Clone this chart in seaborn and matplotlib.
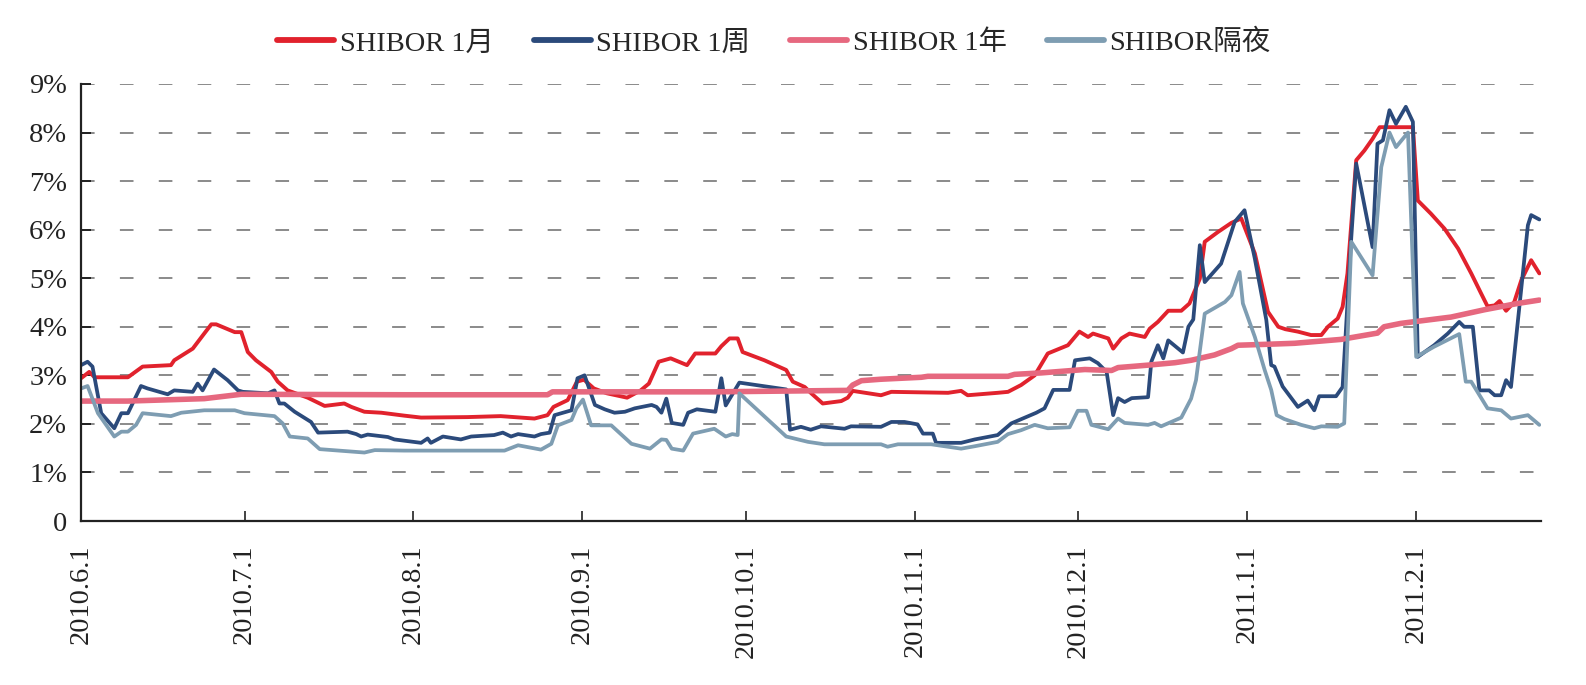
import pandas as pd
import matplotlib
matplotlib.use("Agg")
import matplotlib.pyplot as plt
import seaborn as sns

# ================= 数据（日期偏移：距 2010-06-01 的天数，利率 %） =================
START = "2010-06-01"

m1_days = [0, 1.5, 2.5, 8.6, 11.3, 16.5, 17.1, 20.5, 22.6, 23.9, 24.8, 28.2, 29.4, 30.6, 32.1,
           34.9, 36.1, 37.9, 41.6, 44.7, 48.3, 49.6, 52.0, 55.1, 59.3, 62.4, 70.9, 77.0, 83.2,
           85.6, 86.7, 89.3, 91.0, 92.3, 94.1, 96.5, 100.2, 102.7, 104.2, 106.0, 108.2, 111.2,
           112.7, 116.4, 117.5, 119.0, 120.5, 121.4, 125.4, 129.4, 130.6, 132.8, 134.0, 136.1,
           139.5, 140.7, 141.6, 146.8, 148.7, 159.1, 161.5, 162.7, 168.2, 170.1, 172.5, 175.0,
           177.4, 181.1, 183.2, 184.8, 185.7, 188.5, 189.4, 190.9, 192.4, 195.2, 196.1, 197.6,
           199.5, 201.9, 203.4, 205.3, 206.2, 208.6, 211.1, 212.9, 215.4, 217.8, 219.7, 221.0,
           223.3, 225.7, 227.6, 228.8, 230.6, 231.5, 232.4, 234.0, 235.5, 237.0, 238.3, 244.4,
           245.3, 247.7, 250.2, 252.7, 255.1, 256.9, 258.1, 259.4, 260.3, 261.5, 263.0, 264.3,
           266.1, 267.6]
m1_vals = [2.94, 3.07, 2.96, 2.96, 3.18, 3.21, 3.31, 3.55, 3.86, 4.05, 4.05, 3.89, 3.89, 3.48, 3.31,
           3.07, 2.87, 2.69, 2.54, 2.37, 2.42, 2.35, 2.25, 2.23, 2.17, 2.13, 2.14, 2.16, 2.11,
           2.18, 2.35, 2.49, 2.87, 2.91, 2.73, 2.63, 2.54, 2.69, 2.83, 3.28, 3.35, 3.21,
           3.45, 3.45, 3.6, 3.76, 3.76, 3.48, 3.31, 3.11, 2.87, 2.76, 2.63, 2.42,
           2.47, 2.54, 2.68, 2.59, 2.66, 2.64, 2.68, 2.59, 2.64, 2.66, 2.80, 3.0,
           3.45, 3.62, 3.90, 3.79, 3.86, 3.76, 3.55, 3.76, 3.86, 3.79, 3.96, 4.10,
           4.33, 4.33, 4.48, 4.99, 5.75, 5.95, 6.14, 6.23, 5.51, 4.31, 4.0, 3.95,
           3.9, 3.83, 3.83, 4.0, 4.17, 4.41, 5.1, 7.43, 7.63, 7.87, 8.11, 8.11,
           6.6, 6.33, 6.02, 5.61, 5.10, 4.69, 4.42, 4.44, 4.53, 4.33, 4.51, 4.96,
           5.37, 5.10]

w1_days = [0, 1.2, 2.1, 3.7, 6.1, 7.4, 8.6, 11.0, 12.2, 15.9, 17.1, 20.5, 21.4, 22.3, 24.4, 26.9,
           27.8, 28.8, 29.7, 34.3, 35.5, 36.4, 37.3, 39.2, 42.2, 43.5, 48.9, 50.5, 51.4, 52.6,
           56.3, 57.5, 62.4, 63.6, 64.2, 66.4, 69.7, 71.6, 75.8, 77.4, 78.9, 80.2, 83.2, 84.4,
           86.0, 86.9, 90.0, 91.1, 92.4, 94.3, 96.1, 97.9, 99.8, 101.6, 104.7, 105.6, 106.5,
           107.4, 108.4, 110.5, 111.4, 113.0, 116.4, 117.5, 118.3, 120.8, 129.4, 130.1, 132.1,
           133.9, 135.8, 140.1, 141.3, 146.8, 148.7, 151.1, 153.5, 154.5, 156.3, 156.9, 161.5,
           164.0, 168.2, 170.7, 172.8, 175.3, 176.8, 178.4, 181.4, 182.4, 185.1, 186.6, 188.2,
           189.4, 190.3, 191.5, 192.8, 195.8, 196.4, 197.6, 198.6, 199.5, 202.2, 203.2, 204.1,
           205.3, 206.2, 209.2, 210.5, 211.7, 213.5, 215.4, 217.5, 218.4, 219.0, 220.5, 223.3,
           225.1, 226.3, 227.2, 230.3, 231.5, 233.1, 234.0, 237.0, 237.9, 238.9, 240.1, 241.3,
           243.1, 244.4, 245.3, 248.3, 250.8, 252.9, 253.8, 255.4, 256.6, 258.4, 259.4, 260.6,
           261.5, 262.4, 265.5, 266.1, 267.6]
w1_vals = [3.21, 3.28, 3.18, 2.22, 1.91, 2.22, 2.22, 2.78, 2.73, 2.61, 2.69, 2.66, 2.83, 2.69, 3.12, 2.9,
           2.8, 2.69, 2.66, 2.63, 2.69, 2.42, 2.42, 2.25, 2.04, 1.82, 1.84, 1.79, 1.74, 1.78,
           1.73, 1.68, 1.61, 1.70, 1.61, 1.74, 1.68, 1.74, 1.77, 1.82, 1.74, 1.79, 1.74, 1.79,
           1.82, 2.18, 2.28, 2.94, 3.0, 2.39, 2.30, 2.23, 2.25, 2.32, 2.39, 2.35, 2.23,
           2.52, 2.02, 1.98, 2.23, 2.30, 2.25, 2.94, 2.38, 2.85, 2.71, 1.88, 1.94,
           1.88, 1.95, 1.90, 1.95, 1.94, 2.04, 2.04, 1.99, 1.80, 1.80, 1.61, 1.61,
           1.68, 1.77, 2.01, 2.11, 2.23, 2.32, 2.70, 2.70, 3.31, 3.35, 3.25, 3.07,
           2.18, 2.53, 2.45, 2.53, 2.55, 3.28, 3.62, 3.35, 3.72, 3.47, 4.0, 4.15,
           5.68, 4.92, 5.30, 5.75, 6.16, 6.4, 5.40, 4.14, 3.21, 3.18, 2.77, 2.35,
           2.48, 2.28, 2.57, 2.57, 2.76, 5.85, 7.36, 5.64, 7.77, 7.84, 8.46, 8.18,
           8.53, 8.22, 3.38, 3.62, 3.86, 4.10, 4.0, 4.0, 2.69, 2.69, 2.59, 2.59,
           2.9, 2.76, 6.09, 6.3, 6.21]

y1_days = [0, 8.6, 22.6, 29.4, 59.3, 85.6, 86.5, 116.2, 140.7, 141.6, 143.2, 146.8, 154.2, 155.4,
           170.1, 171.3, 176.2, 184.2, 189.1, 190.3, 195.8, 200.7, 203.7, 208.0, 211.1, 212.3,
           217.8, 222.7, 231.2, 237.9, 239.1, 242.2, 251.4, 257.5, 263.6, 267.6]
y1_vals = [2.47, 2.47, 2.52, 2.61, 2.6, 2.6, 2.66, 2.66, 2.69, 2.8, 2.89, 2.92, 2.96, 2.98,
           2.98, 3.02, 3.05, 3.12, 3.10, 3.16, 3.21, 3.26, 3.31, 3.42, 3.55, 3.62,
           3.64, 3.66, 3.74, 3.87, 4.0, 4.07, 4.2, 4.35, 4.48, 4.55]

on_days = [0, 1.2, 3.1, 6.1, 7.4, 8.6, 10.1, 11.3, 16.5, 18.4, 22.6, 28.2, 30.0, 35.5, 37.0, 38.3,
           41.6, 43.8, 52.0, 53.9, 59.3, 77.7, 80.2, 84.4, 86.3, 87.5, 90.0, 90.9, 92.1, 93.6,
           97.3, 101.0, 104.4, 106.5, 107.4, 108.4, 110.5, 112.3, 116.2, 118.3, 119.5, 120.5,
           120.8, 129.4, 133.4, 136.4, 146.8, 148.0, 149.9, 156.0, 161.5, 164.0, 168.2, 170.1,
           172.5, 175.0, 177.4, 181.4, 182.9, 184.5, 185.4, 188.5, 190.3, 191.5, 195.8, 197.0,
           198.2, 201.9, 203.7, 204.6, 206.2, 209.9, 211.1, 212.6, 213.2, 215.4, 217.2, 218.4,
           219.4, 220.8, 223.9, 226.3, 227.6, 230.6, 231.8, 233.1, 237.0, 238.6, 240.1, 241.3,
           243.5, 245.0, 248.3, 252.9, 254.1, 255.1, 258.1, 260.6, 262.4, 265.5, 267.6]
on_vals = [2.73, 2.78, 2.22, 1.74, 1.84, 1.84, 1.98, 2.22, 2.16, 2.23, 2.28, 2.28, 2.22, 2.16, 2.01, 1.74,
           1.70, 1.48, 1.41, 1.46, 1.45, 1.45, 1.56, 1.47, 1.59, 1.97, 2.08, 2.32, 2.50, 1.97,
           1.97, 1.59, 1.49, 1.68, 1.67, 1.49, 1.45, 1.80, 1.90, 1.74, 1.79, 1.77,
           2.63, 1.74, 1.63, 1.58, 1.58, 1.53, 1.58, 1.58, 1.49, 1.54, 1.63, 1.79,
           1.87, 1.98, 1.91, 1.93, 2.27, 2.27, 1.98, 1.89, 2.11, 2.02, 1.98, 2.02,
           1.95, 2.13, 2.52, 2.90, 4.27, 4.51, 4.65, 5.13, 4.48, 3.79, 3.11, 2.70,
           2.18, 2.10, 1.98, 1.91, 1.95, 1.94, 2.01, 5.75, 5.06, 7.29, 8.0, 7.7,
           8.0, 3.38, 3.59, 3.85, 2.87, 2.87, 2.32, 2.28, 2.11, 2.18, 1.98]

series_names = ["SHIBOR 1月", "SHIBOR 1周", "SHIBOR 1年", "SHIBOR隔夜"]

xtick_dates = ["2010-06-01", "2010-07-01", "2010-08-01", "2010-09-01", "2010-10-01",
               "2010-11-01", "2010-12-01", "2011-01-01", "2011-02-01"]
xtick_labels = ["2010.6.1", "2010.7.1", "2010.8.1", "2010.9.1", "2010.10.1",
                "2010.11.1", "2010.12.1", "2011.1.1", "2011.2.1"]
ytick_vals = [0, 1, 2, 3, 4, 5, 6, 7, 8, 9]
ytick_labels = ["0", "1%", "2%", "3%", "4%", "5%", "6%", "7%", "8%", "9%"]

# ================= 样式 =================
sns.set_style("ticks")
plt.rcParams['font.family'] = ['Liberation Serif', 'Noto Sans CJK SC', 'DejaVu Sans']
plt.rcParams['axes.unicode_minus'] = False

colors = {"SHIBOR 1月": "#E1222D", "SHIBOR 1周": "#2B4A7B",
          "SHIBOR 1年": "#E6687F", "SHIBOR隔夜": "#7E9DB2"}
widths = {"SHIBOR 1月": 2.8, "SHIBOR 1周": 2.7, "SHIBOR 1年": 4.0, "SHIBOR隔夜": 2.7}

base = pd.Timestamp(START)
frames = []
for name, d, v in zip(series_names,
                      [m1_days, w1_days, y1_days, on_days],
                      [m1_vals, w1_vals, y1_vals, on_vals]):
    frames.append(pd.DataFrame({"date": base + pd.to_timedelta(d, unit="D"),
                                "rate": v, "series": name}))
df = pd.concat(frames, ignore_index=True)

fig, ax = plt.subplots(figsize=(15.86, 6.85), dpi=100)
fig.subplots_adjust(left=0.0511, right=0.9716, top=0.8774, bottom=0.2394)

for name in series_names:
    sns.lineplot(data=df[df["series"] == name], x="date", y="rate",
                 color=colors[name], linewidth=widths[name],
                 estimator=None, sort=False, label=name, ax=ax)

ax.set_xlim(base, base + pd.Timedelta(days=267.9))
ax.set_ylim(0, 9)

ax.set_yticks(ytick_vals)
ax.set_yticklabels(ytick_labels)
ax.set_xticks(pd.to_datetime(xtick_dates))
ax.set_xticklabels(xtick_labels, rotation=90)

ax.set_xlabel("")
ax.set_ylabel("")

ax.yaxis.grid(True, color="#8a8a8a", linewidth=1.4, linestyle=(0, (7, 13)))
ax.xaxis.grid(False)
ax.set_axisbelow(True)

for s in ["top", "right"]:
    ax.spines[s].set_visible(False)
for s in ["left", "bottom"]:
    ax.spines[s].set_color("#222222")
    ax.spines[s].set_linewidth(1.6)

ax.tick_params(axis="y", direction="in", length=7, width=1.4, pad=10,
               labelsize=20.5, colors="#222222")
ax.tick_params(axis="x", direction="in", length=7, width=1.2, pad=17,
               labelsize=20.5, colors="#222222")

handles, labels = ax.get_legend_handles_labels()
ax.get_legend().remove()
leg = fig.legend(handles, labels, loc="center", bbox_to_anchor=(0.488, 0.937),
                 ncol=4, frameon=False, handlelength=2.0, handletextpad=0.2,
                 columnspacing=1.4, fontsize=20.5)
for h in leg.legend_handles:
    h.set_linewidth(4.2)

plt.savefig("out.png", dpi=100)
